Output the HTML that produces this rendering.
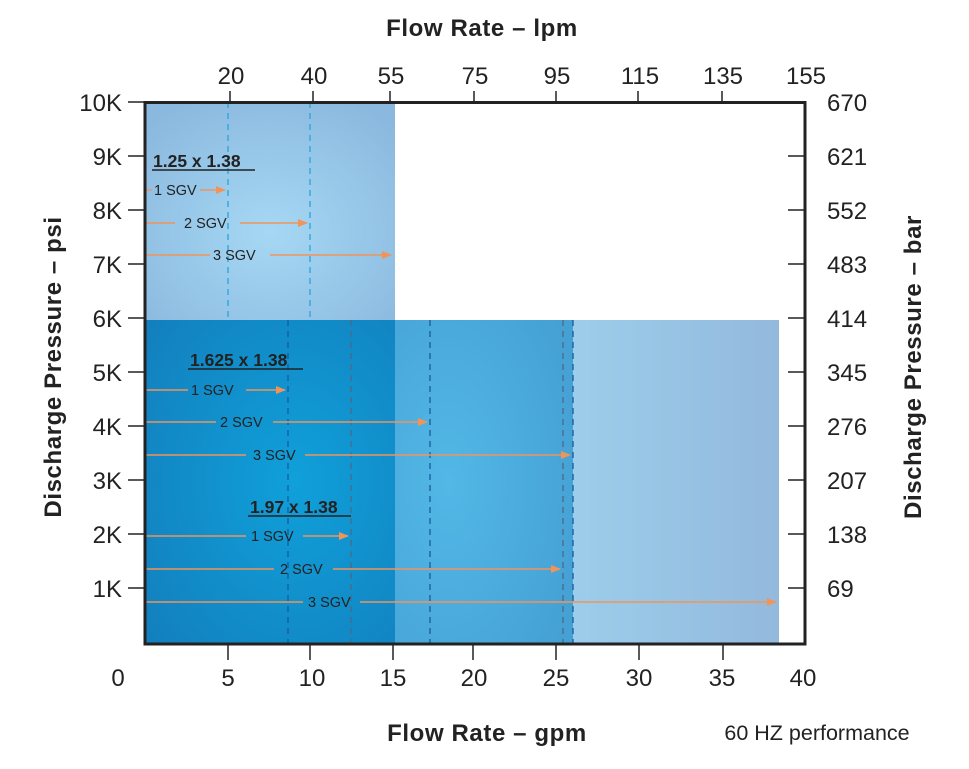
<!DOCTYPE html>
<html><head><meta charset="utf-8"><style>
body{margin:0;background:#fff;}
svg text{font-family:"Liberation Sans",Arial,sans-serif;fill:#222;}
</style></head><body>
<svg width="969" height="764" viewBox="0 0 969 764" xmlns="http://www.w3.org/2000/svg">
<defs>
<radialGradient id="gTop" cx="0.5" cy="0.6" r="0.7">
<stop offset="0" stop-color="#a6d8f4"/><stop offset="1" stop-color="#8ab8de"/></radialGradient>
<radialGradient id="gDark" cx="0.6" cy="0.5" r="0.8">
<stop offset="0" stop-color="#10a0da"/><stop offset="1" stop-color="#127ebc"/></radialGradient>
<radialGradient id="gMid" cx="0.3" cy="0.5" r="0.8">
<stop offset="0" stop-color="#52b8e6"/><stop offset="1" stop-color="#45a0d4"/></radialGradient>
<linearGradient id="gLight" x1="0" x2="1" y1="0" y2="0">
<stop offset="0" stop-color="#9ccdeb"/><stop offset="1" stop-color="#93b9dc"/></linearGradient>
<marker id="ar" markerWidth="10" markerHeight="8" refX="9" refY="4" orient="auto" markerUnits="userSpaceOnUse">
<path d="M0,0 L10,4 L0,8 Z" fill="#f0945a"/></marker>
</defs>
<rect x="145" y="102" width="250" height="218" fill="url(#gTop)"/>
<rect x="573" y="320" width="206" height="324" fill="url(#gLight)"/>
<rect x="395" y="320" width="178" height="324" fill="url(#gMid)"/>
<rect x="145" y="320" width="250" height="324" fill="url(#gDark)"/>
<g stroke-width="1.3" stroke-dasharray="6,5" fill="none">
<line x1="228" y1="102" x2="228" y2="320" stroke="#28a4dc"/>
<line x1="310" y1="102" x2="310" y2="320" stroke="#28a4dc"/>
<line x1="288" y1="320" x2="288" y2="644" stroke="#1a5a9a"/>
<line x1="351" y1="320" x2="351" y2="644" stroke="#4a6a88"/>
<line x1="430" y1="320" x2="430" y2="644" stroke="#1a5a9a"/>
<line x1="563" y1="320" x2="563" y2="644" stroke="#4a6a88"/>
<line x1="573" y1="320" x2="573" y2="644" stroke="#1a5a9a"/>
</g>
<g stroke="#f0945a" stroke-width="1.5" fill="none">
<line x1="146" y1="190" x2="152" y2="190"/><line x1="200" y1="190" x2="225" y2="190" marker-end="url(#ar)"/>
<line x1="146" y1="223" x2="175" y2="223"/><line x1="240" y1="223" x2="307" y2="223" marker-end="url(#ar)"/>
<line x1="146" y1="255" x2="210" y2="255"/><line x1="270" y1="255" x2="391" y2="255" marker-end="url(#ar)"/>
<line x1="146" y1="390" x2="188" y2="390"/><line x1="246" y1="390" x2="285" y2="390" marker-end="url(#ar)"/>
<line x1="146" y1="422" x2="216" y2="422"/><line x1="273" y1="422" x2="427" y2="422" marker-end="url(#ar)"/>
<line x1="146" y1="455" x2="246" y2="455"/><line x1="305" y1="455" x2="570" y2="455" marker-end="url(#ar)"/>
<line x1="146" y1="536" x2="246" y2="536"/><line x1="303" y1="536" x2="348" y2="536" marker-end="url(#ar)"/>
<line x1="146" y1="569" x2="274" y2="569"/><line x1="333" y1="569" x2="560" y2="569" marker-end="url(#ar)"/>
<line x1="146" y1="602" x2="303" y2="602"/><line x1="360" y1="602" x2="776" y2="602" marker-end="url(#ar)"/>
</g>
<g font-size="14.5">
<text x="154" y="195">1 SGV</text><text x="184" y="228">2 SGV</text><text x="213" y="260">3 SGV</text>
<text x="191" y="395">1 SGV</text><text x="220" y="427">2 SGV</text><text x="253" y="460">3 SGV</text>
<text x="251" y="541">1 SGV</text><text x="280" y="574">2 SGV</text><text x="308" y="607">3 SGV</text>
</g>
<g font-size="17.5" font-weight="bold">
<text x="153" y="167">1.25 x 1.38</text><line x1="152" y1="170" x2="255" y2="170" stroke="#222" stroke-width="1.5"/>
<text x="190" y="366">1.625 x 1.38</text><line x1="188" y1="369" x2="303" y2="369" stroke="#222" stroke-width="1.5"/>
<text x="250" y="513">1.97 x 1.38</text><line x1="248" y1="516" x2="351" y2="516" stroke="#222" stroke-width="1.5"/>
</g>
<rect x="145" y="102.5" width="660" height="541.5" fill="none" stroke="#222" stroke-width="3"/>
<g stroke="#222" stroke-width="1.5">
<line x1="128" y1="102" x2="145" y2="102"/><line x1="128" y1="156" x2="145" y2="156"/><line x1="128" y1="210" x2="145" y2="210"/>
<line x1="128" y1="264" x2="145" y2="264"/><line x1="128" y1="318" x2="145" y2="318"/><line x1="128" y1="372" x2="145" y2="372"/>
<line x1="128" y1="426" x2="145" y2="426"/><line x1="128" y1="480" x2="145" y2="480"/><line x1="128" y1="534" x2="145" y2="534"/>
<line x1="128" y1="588" x2="145" y2="588"/>
<line x1="788" y1="156" x2="805" y2="156"/><line x1="788" y1="210" x2="805" y2="210"/>
<line x1="788" y1="264" x2="805" y2="264"/><line x1="788" y1="318" x2="805" y2="318"/><line x1="788" y1="372" x2="805" y2="372"/>
<line x1="788" y1="426" x2="805" y2="426"/><line x1="788" y1="480" x2="805" y2="480"/><line x1="788" y1="534" x2="805" y2="534"/>
<line x1="788" y1="588" x2="805" y2="588"/>
<line x1="228" y1="644" x2="228" y2="660"/><line x1="310" y1="644" x2="310" y2="660"/><line x1="393" y1="644" x2="393" y2="660"/>
<line x1="473" y1="644" x2="473" y2="660"/><line x1="556" y1="644" x2="556" y2="660"/><line x1="639" y1="644" x2="639" y2="660"/>
<line x1="723" y1="644" x2="723" y2="660"/>
<line x1="230" y1="91" x2="230" y2="102"/><line x1="313" y1="91" x2="313" y2="102"/><line x1="390" y1="91" x2="390" y2="102"/>
<line x1="474" y1="91" x2="474" y2="102"/><line x1="556" y1="91" x2="556" y2="102"/><line x1="638" y1="91" x2="638" y2="102"/>
<line x1="722" y1="91" x2="722" y2="102"/>
</g>
<g font-size="24" text-anchor="end">
<text x="122" y="111">10K</text><text x="122" y="165">9K</text><text x="122" y="219">8K</text><text x="122" y="273">7K</text>
<text x="122" y="327">6K</text><text x="122" y="381">5K</text><text x="122" y="435">4K</text><text x="122" y="489">3K</text>
<text x="122" y="543">2K</text><text x="122" y="597">1K</text>
</g>
<g font-size="24">
<text x="827" y="111">670</text><text x="827" y="165">621</text><text x="827" y="219">552</text><text x="827" y="273">483</text>
<text x="827" y="327">414</text><text x="827" y="381">345</text><text x="827" y="435">276</text><text x="827" y="489">207</text>
<text x="827" y="543">138</text><text x="827" y="597">69</text>
</g>
<g font-size="24" text-anchor="middle">
<text x="118" y="686">0</text><text x="228" y="686">5</text><text x="312" y="686">10</text><text x="393" y="686">15</text>
<text x="474" y="686">20</text><text x="556" y="686">25</text><text x="639" y="686">30</text><text x="722" y="686">35</text><text x="803" y="686">40</text>
<text x="231" y="84">20</text><text x="314" y="84">40</text><text x="391" y="84">55</text><text x="475" y="84">75</text>
<text x="557" y="84">95</text><text x="640" y="84">115</text><text x="723" y="84">135</text><text x="806" y="84">155</text>
</g>
<g font-size="24" font-weight="bold" text-anchor="middle" letter-spacing="0.6">
<text x="482" y="36">Flow Rate – lpm</text>
<text x="487" y="741">Flow Rate – gpm</text>
<text transform="translate(61,367) rotate(-90)">Discharge Pressure – psi</text>
<text transform="translate(921,367) rotate(-90)">Discharge Pressure – bar</text>
</g>
<text x="817" y="740" font-size="21.5" text-anchor="middle">60 HZ performance</text>
</svg>
</body></html>
